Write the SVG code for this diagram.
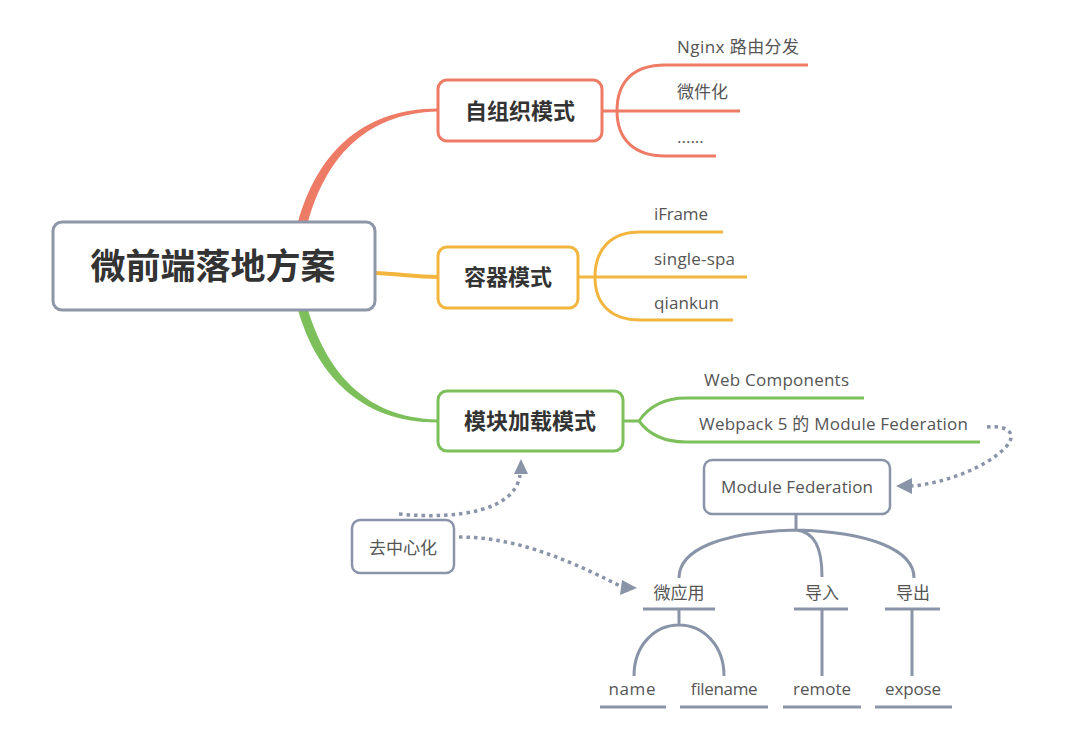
<svg xmlns="http://www.w3.org/2000/svg" width="1080" height="755" viewBox="0 0 1080 755">
<defs>
<style>
.title{font-family:"Open Sans","Noto Sans CJK SC",sans-serif;font-weight:bold;fill:#333;text-anchor:middle}
.leaf{font-family:"Open Sans","Noto Sans CJK SC",sans-serif;font-size:17px;fill:#555}
.mid{text-anchor:middle}
.red{stroke:#ee7b65;fill:none;stroke-width:3}
.org{stroke:#f3b53e;fill:none;stroke-width:3}
.grn{stroke:#7dc05b;fill:none;stroke-width:3}
.gray{stroke:#8a94a8;fill:none;stroke-width:3}
.dot{stroke:#8a94a8;fill:none;stroke-width:3.5;stroke-dasharray:3.5 4}
.ah{fill:#8a94a8}
</style>
</defs>
<rect width="1080" height="755" fill="#fff"/>
<g id="connectors">
<path d="M298 222 C316 158 358 108.5 438 108.5 L438 111.5 C362 113 325 162 308 222 Z" fill="#ee7b65"/>
<path d="M375 273 C400 274 415 277 438 277" stroke="#f3b53e" stroke-width="4" fill="none"/>
<path d="M298 310 C316 372 358 422.5 438 422.5 L438 419.5 C362 418 326 368 308 310 Z" fill="#7dc05b"/>
<path class="red" d="M602 111 L740 111 M617 111 C617 80 635 65 665 65 L808 65 M617 111 C617 140 635 156 665 156 L716 156"/>
<path class="org" d="M578 277 L747 277 M595 277 C595 248 612 232 640 232 L723 232 M595 277 C595 305 612 320 640 320 L733 320"/>
<path class="grn" d="M623 421 L639 421 C650 405 665 398 686 398 L864 398 M639 421 C650 436 665 442 686 442 L980 442"/>
<path class="gray" d="M796 514 L796 530 M796 530 C720 532 679 550 679 578 M796 530 C815 532 822 548 822 577 M796 530 C870 532 914 550 914 578"/>
<path class="gray" d="M643 609 L715 609 M794 609 L848 609 M885 609 L940 609 M679 609 L679 625 M634 676 C634 645 655 625 679 625 C703 625 724 645 724 676 M822 609 L822 676 M912 609 L912 676"/>
<path class="gray" d="M600 707 L666 707 M680 707 L768 707 M783 707 L861 707 M875 707 L952 707"/>
<path class="dot" d="M399 514 C460 520 515 510 520 475"/>
<polygon class="ah" points="521,459 514,474 528,474"/>
<path class="dot" d="M459 537 C510 537 560 555 622 587"/>
<polygon class="ah" points="637,588 622,580 620,595"/>
<path class="dot" d="M987 427 C1005 425 1020 432 1005 448 C985 468 945 483 912 486"/>
<polygon class="ah" points="896,486 912,478 912,494"/>
</g>
<g id="root">
<rect x="53" y="222" width="322" height="88" rx="9" fill="#fff" stroke="#8d97a8" stroke-width="3"/>
<text class="title" x="213" y="279" font-size="35">微前端落地方案</text>
</g>
<g id="n1">
<rect x="438" y="80" width="164" height="61" rx="9" fill="#fff" stroke="#ee7b65" stroke-width="3"/>
<text class="title" x="520" y="119" font-size="22">自组织模式</text>
</g>
<g id="n2">
<rect x="438" y="247" width="140" height="61" rx="9" fill="#fff" stroke="#f3b53e" stroke-width="3"/>
<text class="title" x="508" y="285" font-size="22">容器模式</text>
</g>
<g id="n3">
<rect x="438" y="391" width="185" height="60" rx="9" fill="#fff" stroke="#7dc05b" stroke-width="3"/>
<text class="title" x="530" y="429" font-size="22">模块加载模式</text>
</g>
<g id="l1"><text class="leaf" x="677" y="53" textLength="122">Nginx 路由分发</text></g>
<g id="l2"><text class="leaf" x="677" y="98">微件化</text></g>
<g id="l3"><text class="leaf" x="677" y="143">......</text></g>
<g id="l4"><text class="leaf" x="654" y="220" textLength="54">iFrame</text></g>
<g id="l5"><text class="leaf" x="654" y="265" textLength="81">single-spa</text></g>
<g id="l6"><text class="leaf" x="654" y="309" textLength="65">qiankun</text></g>
<g id="l7"><text class="leaf" x="704" y="386" textLength="145">Web Components</text></g>
<g id="l8"><text class="leaf" x="699" y="430" textLength="269">Webpack 5 的 Module Federation</text></g>
<g id="mf">
<rect x="704" y="460" width="186" height="54" rx="8" fill="#fff" stroke="#8a94a8" stroke-width="2.5"/>
<text class="leaf mid" x="797" y="493" textLength="152">Module Federation</text>
</g>
<g id="decentral">
<rect x="352" y="520" width="102" height="53" rx="8" fill="#fff" stroke="#8a94a8" stroke-width="2.5"/>
<text class="leaf mid" x="403" y="554">去中心化</text>
</g>
<g id="app"><text class="leaf mid" x="679" y="599">微应用</text></g>
<g id="imp"><text class="leaf mid" x="822" y="599">导入</text></g>
<g id="exp"><text class="leaf mid" x="913" y="599">导出</text></g>
<g id="name"><text class="leaf mid" x="632" y="695" textLength="47">name</text></g>
<g id="filename"><text class="leaf mid" x="724" y="695" textLength="67">filename</text></g>
<g id="remote"><text class="leaf mid" x="822" y="695" textLength="58">remote</text></g>
<g id="expose"><text class="leaf mid" x="913" y="695" textLength="56">expose</text></g>
</svg>
